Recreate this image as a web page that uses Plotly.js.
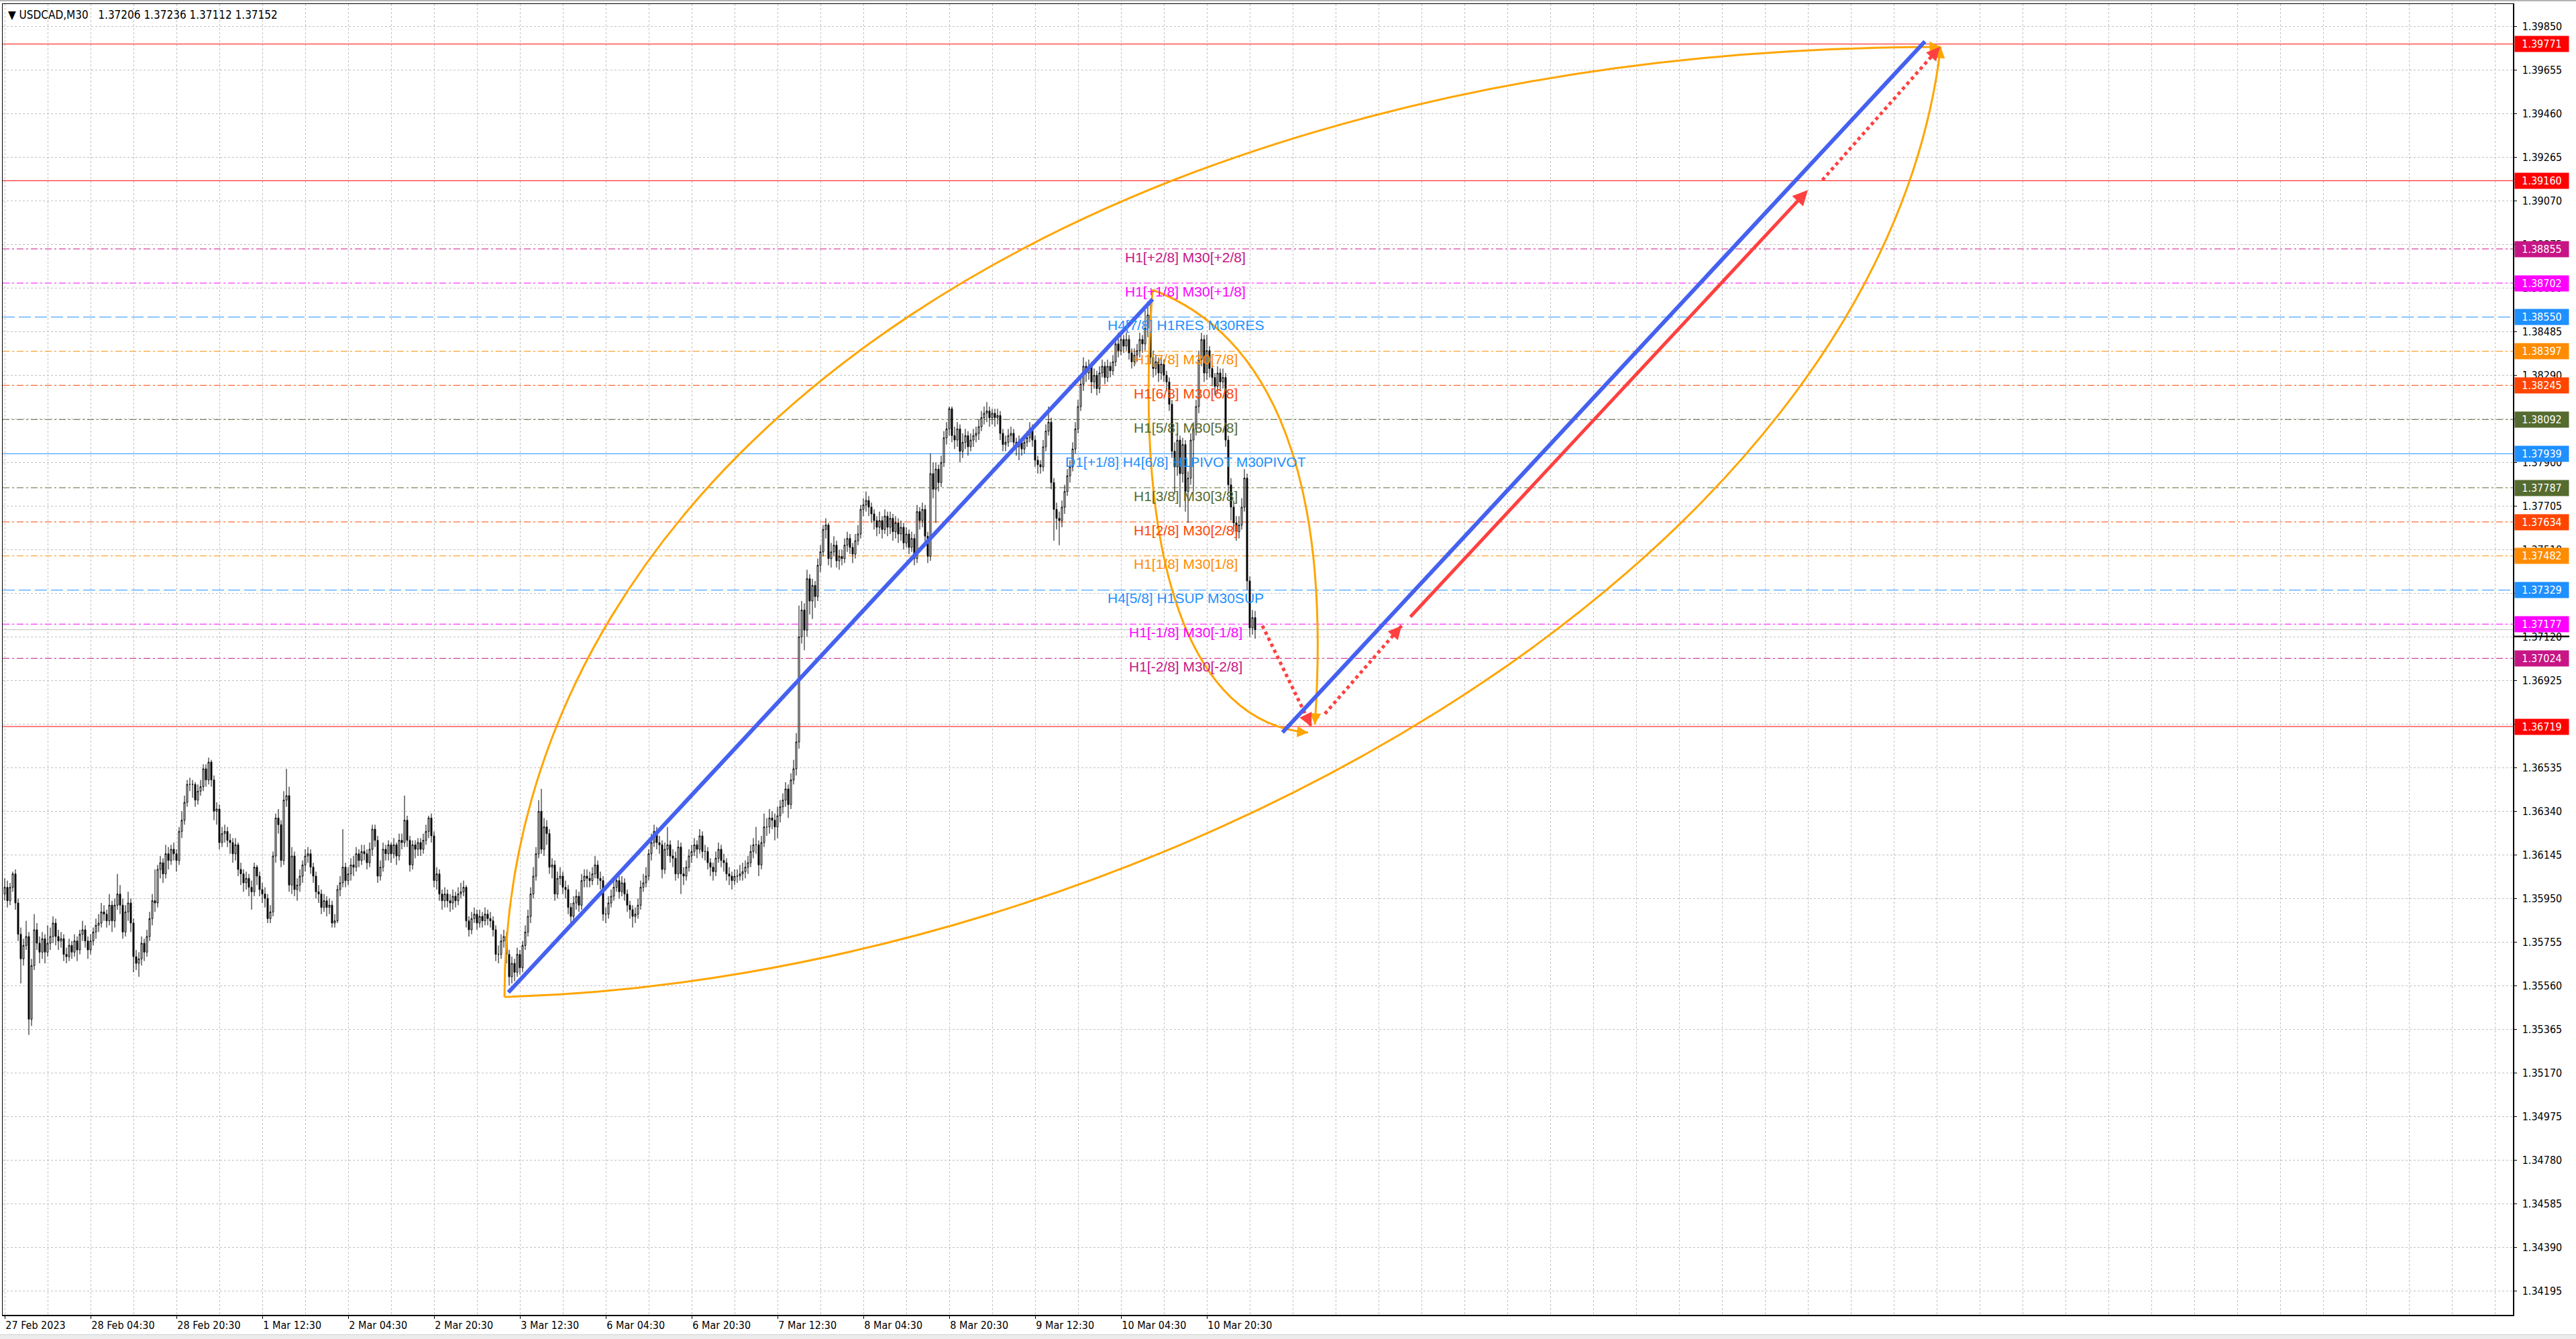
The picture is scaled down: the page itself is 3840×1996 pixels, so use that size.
<!DOCTYPE html>
<html>
<head>
<meta charset="utf-8">
<script src="https://cdn.plot.ly/plotly-3.0.1.min.js"></script>
<style>
html,body{margin:0;padding:0;background:#fff;overflow:hidden;}
#chart{width:3840px;height:1996px;position:absolute;left:0;top:0;}
#topbar{position:absolute;left:0;top:0;width:3840px;height:2px;background:#b4b4b4;}
#botbar{position:absolute;left:0;bottom:0;width:3840px;height:6px;background:#ececec;border-top:1px solid #d0d0d0;}
</style>
</head>
<body>
<div id="chart"></div>
<div id="topbar"></div>
<div id="botbar"></div>
<script>
// ---------------- DATA (USDCAD, M30) ----------------
const open = [
1.3597,1.3600,1.3594,1.3600,1.3606,1.3593,1.3579,1.3568,1.3574,1.3578,
1.3541,1.3565,1.3581,1.3575,1.3571,1.3577,1.3571,1.3575,1.3578,1.3584,
1.3578,1.3576,1.3577,1.3570,1.3569,1.3574,1.3571,1.3576,1.3572,1.3579,
1.3581,1.3576,1.3572,1.3576,1.3580,1.3583,1.3584,1.3589,1.3588,1.3585,
1.3592,1.3585,1.3592,1.3597,1.3592,1.3580,1.3589,1.3593,1.3584,1.3569,
1.3566,1.3568,1.3575,1.3571,1.3578,1.3586,1.3594,1.3593,1.3608,1.3611,
1.3606,1.3615,1.3612,1.3617,1.3615,1.3612,1.3625,1.3630,1.3638,1.3646,
1.3646,1.3646,1.3639,1.3643,1.3645,1.3653,1.3648,1.3656,1.3648,1.3634,
1.3635,1.3620,1.3624,1.3625,1.3621,1.3620,1.3615,1.3619,1.3608,1.3606,
1.3602,1.3604,1.3600,1.3598,1.3609,1.3605,1.3599,1.3597,1.3595,1.3586,
1.3589,1.3614,1.3631,1.3628,1.3612,1.3639,1.3641,1.3601,1.3614,1.3599,
1.3601,1.3605,1.3610,1.3614,1.3615,1.3609,1.3605,1.3598,1.3597,1.3591,
1.3594,1.3591,1.3592,1.3584,1.3585,1.3599,1.3602,1.3609,1.3603,1.3606,
1.3610,1.3609,1.3615,1.3612,1.3616,1.3615,1.3611,1.3617,1.3626,1.3621,
1.3605,1.3609,1.3617,1.3615,1.3619,1.3615,1.3619,1.3614,1.3621,1.3620,
1.3630,1.3621,1.3610,1.3619,1.3617,1.3620,1.3617,1.3621,1.3625,1.3631,
1.3623,1.3603,1.3606,1.3597,1.3594,1.3597,1.3594,1.3593,1.3596,1.3594,
1.3597,1.3598,1.3600,1.3585,1.3581,1.3586,1.3588,1.3584,1.3587,1.3585,
1.3588,1.3586,1.3585,1.3581,1.3570,1.3570,1.3576,1.3578,1.3570,1.3560,
1.3566,1.3562,1.3570,1.3564,1.3574,1.3580,1.3587,1.3597,1.3605,1.3615,
1.3634,1.3617,1.3627,1.3624,1.3609,1.3610,1.3597,1.3604,1.3605,1.3600,
1.3599,1.3591,1.3587,1.3593,1.3596,1.3592,1.3603,1.3605,1.3604,1.3603,
1.3606,1.3610,1.3604,1.3603,1.3588,1.3588,1.3593,1.3596,1.3600,1.3603,
1.3598,1.3602,1.3597,1.3592,1.3590,1.3587,1.3588,1.3592,1.3600,1.3602,
1.3605,1.3615,1.3620,1.3625,1.3620,1.3619,1.3608,1.3617,1.3619,1.3614,
1.3613,1.3606,1.3618,1.3606,1.3605,1.3609,1.3614,1.3616,1.3619,1.3617,
1.3623,1.3616,1.3616,1.3611,1.3609,1.3607,1.3613,1.3617,1.3612,1.3611,
1.3606,1.3605,1.3603,1.3605,1.3605,1.3606,1.3607,1.3609,1.3611,1.3616,
1.3619,1.3619,1.3610,1.3620,1.3627,1.3627,1.3631,1.3630,1.3627,1.3632,
1.3636,1.3639,1.3644,1.3637,1.3648,1.3653,1.3665,1.3712,1.3724,1.3715,
1.3738,1.3728,1.3735,1.3730,1.3744,1.3750,1.3760,1.3762,1.3747,1.3750,
1.3753,1.3746,1.3748,1.3747,1.3753,1.3756,1.3752,1.3749,1.3755,1.3758,
1.3769,1.3771,1.3773,1.3770,1.3767,1.3764,1.3761,1.3764,1.3760,1.3766,
1.3761,1.3765,1.3759,1.3763,1.3758,1.3761,1.3754,1.3758,1.3752,1.3756,
1.3747,1.3768,1.3764,1.3769,1.3757,1.3748,1.3785,1.3778,1.3787,1.3781,
1.3790,1.3801,1.3805,1.3814,1.3802,1.3800,1.3805,1.3795,1.3799,1.3802,
1.3797,1.3800,1.3802,1.3803,1.3806,1.3810,1.3812,1.3813,1.3810,1.3812,
1.3810,1.3811,1.3803,1.3798,1.3799,1.3802,1.3803,1.3799,1.3797,1.3799,
1.3796,1.3799,1.3801,1.3805,1.3800,1.3791,1.3789,1.3788,1.3797,1.3804,
1.3808,1.3781,1.3769,1.3765,1.3764,1.3770,1.3777,1.3784,1.3788,1.3796,
1.3805,1.3815,1.3825,1.3833,1.3830,1.3833,1.3826,1.3829,1.3823,1.3830,
1.3833,1.3828,1.3833,1.3831,1.3835,1.3843,1.3840,1.3845,1.3842,1.3845,
1.3839,1.3835,1.3838,1.3840,1.3845,1.3843,1.3850,1.3856,1.3837,1.3832,
1.3835,1.3830,1.3834,1.3829,1.3826,1.3816,1.3795,1.3788,1.3800,1.3785,
1.3798,1.3777,1.3783,1.3800,1.3805,1.3815,1.3836,1.3845,1.3830,1.3840,
1.3832,1.3828,1.3824,1.3830,1.3826,1.3828,1.3800,1.3780,1.3770,1.3763,
1.3759,1.3762,1.3770,1.3783,1.3737,1.3716,1.37206];

const high = [
1.3604,1.3603,1.3602,1.3607,1.3608,1.3595,1.3582,1.3577,1.3585,1.3580,
1.3568,1.3588,1.3584,1.3578,1.3580,1.3579,1.3583,1.3582,1.3587,1.3586,
1.3581,1.3580,1.3579,1.3573,1.3577,1.3576,1.3579,1.3578,1.3581,1.3585,
1.3583,1.3578,1.3579,1.3582,1.3586,1.3588,1.3593,1.3592,1.3590,1.3597,
1.3594,1.3595,1.3606,1.3601,1.3595,1.3592,1.3598,1.3595,1.3586,1.3572,
1.3571,1.3578,1.3577,1.3581,1.3589,1.3597,1.3608,1.3610,1.3614,1.3613,
1.3619,1.3618,1.3619,1.3620,1.3617,1.3627,1.3634,1.3641,1.3648,1.3649,
1.3648,1.3647,1.3646,1.3648,1.3655,1.3655,1.3658,1.3657,1.3650,1.3638,
1.3637,1.3627,1.3628,1.3627,1.3624,1.3622,1.3622,1.3620,1.3611,1.3608,
1.3607,1.3606,1.3603,1.3611,1.3610,1.3607,1.3602,1.3600,1.3597,1.3592,
1.3616,1.3633,1.3635,1.3630,1.3643,1.3653,1.3645,1.3618,1.3616,1.3604,
1.3608,1.3612,1.3617,1.3618,1.3617,1.3611,1.3607,1.3601,1.3599,1.3597,
1.3596,1.3595,1.3594,1.3588,1.3601,1.3605,1.3626,1.3611,1.3609,1.3613,
1.3614,1.3618,1.3617,1.3619,1.3619,1.3617,1.3620,1.3628,1.3628,1.3623,
1.3612,1.3620,1.3619,1.3621,1.3620,1.3622,1.3620,1.3624,1.3624,1.3641,
1.3632,1.3623,1.3621,1.3621,1.3622,1.3622,1.3624,1.3628,1.3632,1.3633,
1.3625,1.3609,1.3608,1.3599,1.3600,1.3599,1.3597,1.3599,1.3598,1.3600,
1.3602,1.3603,1.3601,1.3587,1.3589,1.3591,1.3590,1.3590,1.3589,1.3591,
1.3590,1.3589,1.3587,1.3583,1.3574,1.3579,1.3581,1.3580,1.3572,1.3569,
1.3568,1.3573,1.3572,1.3576,1.3583,1.3590,1.3600,1.3609,1.3618,1.3639,
1.3644,1.3631,1.3630,1.3626,1.3613,1.3612,1.3607,1.3609,1.3607,1.3603,
1.3601,1.3593,1.3596,1.3599,1.3598,1.3606,1.3608,1.3608,1.3607,1.3609,
1.3614,1.3612,1.3607,1.3605,1.3591,1.3596,1.3599,1.3603,1.3606,1.3605,
1.3605,1.3604,1.3599,1.3594,1.3592,1.3591,1.3595,1.3603,1.3606,1.3609,
1.3617,1.3624,1.3628,1.3627,1.3623,1.3621,1.3620,1.3627,1.3621,1.3617,
1.3616,1.3621,1.3620,1.3609,1.3612,1.3617,1.3619,1.3622,1.3621,1.3626,
1.3625,1.3619,1.3618,1.3613,1.3611,1.3616,1.3620,1.3619,1.3615,1.3613,
1.3609,1.3607,1.3608,1.3608,1.3610,1.3611,1.3612,1.3614,1.3619,1.3622,
1.3627,1.3621,1.3623,1.3633,1.3631,1.3635,1.3634,1.3633,1.3636,1.3639,
1.3642,1.3647,1.3646,1.3651,1.3657,1.3669,1.3726,1.3728,1.3727,1.3742,
1.3740,1.3738,1.3737,1.3747,1.3753,1.3762,1.3765,1.3763,1.3754,1.3757,
1.3755,1.3751,1.3751,1.3756,1.3759,1.3758,1.3754,1.3758,1.3762,1.3771,
1.3774,1.3777,1.3775,1.3772,1.3769,1.3766,1.3768,1.3766,1.3769,1.3768,
1.3768,1.3767,1.3766,1.3765,1.3764,1.3763,1.3761,1.3760,1.3759,1.3758,
1.3771,1.3770,1.3772,1.3771,1.3759,1.3794,1.3790,1.3790,1.3789,1.3793,
1.3804,1.3808,1.3815,1.3815,1.3806,1.3808,1.3807,1.3803,1.3805,1.3804,
1.3803,1.3805,1.3806,1.3809,1.3813,1.3815,1.3817,1.3815,1.3814,1.3814,
1.3814,1.3813,1.3805,1.3802,1.3805,1.3806,1.3805,1.3801,1.3802,1.3801,
1.3802,1.3804,1.3808,1.3807,1.3802,1.3793,1.3791,1.3800,1.3807,1.3815,
1.3810,1.3783,1.3772,1.3768,1.3773,1.3780,1.3787,1.3791,1.3799,1.3808,
1.3818,1.3828,1.3837,1.3835,1.3836,1.3835,1.3832,1.3831,1.3833,1.3836,
1.3835,1.3836,1.3835,1.3838,1.3846,1.3848,1.3848,1.3847,1.3848,1.3847,
1.3841,1.3841,1.3843,1.3848,1.3847,1.3858,1.3862,1.3861,1.3840,1.3838,
1.3837,1.3837,1.3836,1.3831,1.3828,1.3818,1.3799,1.3803,1.3802,1.3801,
1.3800,1.3786,1.3803,1.3808,1.3818,1.3840,1.3848,1.3847,1.3847,1.3842,
1.3835,1.3830,1.3833,1.3832,1.3832,1.3830,1.3802,1.3783,1.3773,1.3766,
1.3766,1.3774,1.3787,1.3785,1.3739,1.3724,1.37236];

const low = [
1.3594,1.3591,1.3592,1.3598,1.3590,1.3576,1.3557,1.3565,1.3572,1.3534,
1.3538,1.3563,1.3572,1.3566,1.3568,1.3566,1.3569,1.3572,1.3575,1.3574,
1.3572,1.3573,1.3567,1.3566,1.3567,1.3568,1.3569,1.3567,1.3570,1.3576,
1.3573,1.3568,1.3570,1.3574,1.3577,1.3580,1.3582,1.3585,1.3582,1.3583,
1.3580,1.3582,1.3590,1.3588,1.3577,1.3578,1.3585,1.3580,1.3562,1.3563,
1.3560,1.3565,1.3567,1.3569,1.3576,1.3583,1.3589,1.3591,1.3604,1.3602,
1.3604,1.3608,1.3610,1.3612,1.3607,1.3610,1.3622,1.3628,1.3636,1.3643,
1.3640,1.3636,1.3637,1.3641,1.3643,1.3645,1.3646,1.3645,1.3630,1.3628,
1.3617,1.3618,1.3620,1.3618,1.3615,1.3611,1.3612,1.3605,1.3601,1.3598,
1.3599,1.3596,1.3590,1.3596,1.3601,1.3596,1.3593,1.3591,1.3584,1.3584,
1.3587,1.3611,1.3624,1.3609,1.3610,1.3636,1.3598,1.3597,1.3596,1.3594,
1.3598,1.3602,1.3607,1.3611,1.3606,1.3602,1.3595,1.3593,1.3588,1.3589,
1.3587,1.3588,1.3582,1.3582,1.3584,1.3596,1.3600,1.3600,1.3601,1.3603,
1.3605,1.3607,1.3609,1.3610,1.3612,1.3608,1.3609,1.3614,1.3618,1.3602,
1.3603,1.3607,1.3612,1.3612,1.3611,1.3613,1.3610,1.3612,1.3617,1.3618,
1.3618,1.3607,1.3608,1.3613,1.3614,1.3614,1.3615,1.3619,1.3622,1.3620,
1.3600,1.3599,1.3594,1.3590,1.3591,1.3591,1.3589,1.3590,1.3591,1.3592,
1.3595,1.3596,1.3582,1.3578,1.3579,1.3584,1.3581,1.3582,1.3582,1.3583,
1.3583,1.3582,1.3578,1.3567,1.3566,1.3568,1.3573,1.3566,1.3556,1.3557,
1.3558,1.3560,1.3561,1.3562,1.3572,1.3578,1.3584,1.3595,1.3603,1.3613,
1.3615,1.3614,1.3619,1.3606,1.3604,1.3594,1.3595,1.3601,1.3597,1.3595,
1.3588,1.3584,1.3585,1.3590,1.3589,1.3590,1.3600,1.3600,1.3600,1.3601,
1.3604,1.3601,1.3599,1.3585,1.3584,1.3586,1.3591,1.3594,1.3598,1.3595,
1.3596,1.3594,1.3589,1.3586,1.3582,1.3584,1.3586,1.3590,1.3598,1.3600,
1.3603,1.3612,1.3618,1.3617,1.3615,1.3604,1.3606,1.3614,1.3611,1.3609,
1.3603,1.3604,1.3597,1.3601,1.3603,1.3607,1.3611,1.3614,1.3613,1.3615,
1.3613,1.3612,1.3608,1.3605,1.3603,1.3605,1.3611,1.3609,1.3607,1.3603,
1.3601,1.3599,1.3601,1.3602,1.3603,1.3603,1.3604,1.3606,1.3609,1.3613,
1.3615,1.3605,1.3608,1.3618,1.3623,1.3624,1.3626,1.3621,1.3622,1.3629,
1.3633,1.3636,1.3631,1.3635,1.3646,1.3650,1.3662,1.3709,1.3706,1.3712,
1.3722,1.3720,1.3725,1.3728,1.3741,1.3748,1.3756,1.3744,1.3743,1.3748,
1.3743,1.3742,1.3744,1.3745,1.3750,1.3749,1.3745,1.3747,1.3753,1.3756,
1.3766,1.3768,1.3766,1.3763,1.3760,1.3757,1.3758,1.3756,1.3758,1.3757,
1.3758,1.3755,1.3756,1.3754,1.3755,1.3751,1.3752,1.3749,1.3750,1.3744,
1.3745,1.3760,1.3761,1.3754,1.3745,1.3746,1.3774,1.3763,1.3777,1.3779,
1.3788,1.3798,1.3802,1.3799,1.3796,1.3797,1.3790,1.3792,1.3796,1.3793,
1.3795,1.3797,1.3799,1.3800,1.3804,1.3807,1.3808,1.3806,1.3807,1.3806,
1.3807,1.3800,1.3795,1.3795,1.3797,1.3799,1.3796,1.3793,1.3791,1.3793,
1.3794,1.3797,1.3799,1.3797,1.3788,1.3785,1.3785,1.3786,1.3795,1.3802,
1.3778,1.3755,1.3760,1.3753,1.3761,1.3767,1.3775,1.3781,1.3786,1.3794,
1.3803,1.3813,1.3822,1.3826,1.3827,1.3821,1.3823,1.3820,1.3821,1.3828,
1.3825,1.3826,1.3828,1.3829,1.3833,1.3837,1.3838,1.3839,1.3840,1.3836,
1.3832,1.3833,1.3835,1.3837,1.3839,1.3840,1.3846,1.3834,1.3828,1.3829,
1.3826,1.3827,1.3826,1.3822,1.3813,1.3792,1.3776,1.3784,1.3770,1.3781,
1.3768,1.3763,1.3780,1.3777,1.3802,1.3812,1.3833,1.3826,1.3827,1.3828,
1.3824,1.3820,1.3821,1.3822,1.3823,1.3797,1.3776,1.3764,1.3759,1.3755,
1.3756,1.3760,1.3768,1.3733,1.3712,1.3713,1.37112];

const close = [
1.3600,1.3594,1.3600,1.3606,1.3593,1.3579,1.3568,1.3574,1.3578,1.3541,
1.3565,1.3581,1.3575,1.3571,1.3577,1.3571,1.3575,1.3578,1.3584,1.3578,
1.3576,1.3577,1.3570,1.3569,1.3574,1.3571,1.3576,1.3572,1.3579,1.3581,
1.3576,1.3572,1.3576,1.3580,1.3583,1.3584,1.3589,1.3588,1.3585,1.3592,
1.3585,1.3592,1.3597,1.3592,1.3580,1.3589,1.3593,1.3584,1.3569,1.3566,
1.3568,1.3575,1.3571,1.3578,1.3586,1.3594,1.3593,1.3608,1.3611,1.3606,
1.3615,1.3612,1.3617,1.3615,1.3612,1.3625,1.3630,1.3638,1.3646,1.3646,
1.3646,1.3639,1.3643,1.3645,1.3653,1.3648,1.3656,1.3648,1.3634,1.3635,
1.3620,1.3624,1.3625,1.3621,1.3620,1.3615,1.3619,1.3608,1.3606,1.3602,
1.3604,1.3600,1.3598,1.3609,1.3605,1.3599,1.3597,1.3595,1.3586,1.3589,
1.3614,1.3631,1.3628,1.3612,1.3639,1.3641,1.3601,1.3614,1.3599,1.3601,
1.3605,1.3610,1.3614,1.3615,1.3609,1.3605,1.3598,1.3597,1.3591,1.3594,
1.3591,1.3592,1.3584,1.3585,1.3599,1.3602,1.3609,1.3603,1.3606,1.3610,
1.3609,1.3615,1.3612,1.3616,1.3615,1.3611,1.3617,1.3626,1.3621,1.3605,
1.3609,1.3617,1.3615,1.3619,1.3615,1.3619,1.3614,1.3621,1.3620,1.3630,
1.3621,1.3610,1.3619,1.3617,1.3620,1.3617,1.3621,1.3625,1.3631,1.3623,
1.3603,1.3606,1.3597,1.3594,1.3597,1.3594,1.3593,1.3596,1.3594,1.3597,
1.3598,1.3600,1.3585,1.3581,1.3586,1.3588,1.3584,1.3587,1.3585,1.3588,
1.3586,1.3585,1.3581,1.3570,1.3570,1.3576,1.3578,1.3570,1.3560,1.3566,
1.3562,1.3570,1.3564,1.3574,1.3580,1.3587,1.3597,1.3605,1.3615,1.3634,
1.3617,1.3627,1.3624,1.3609,1.3610,1.3597,1.3604,1.3605,1.3600,1.3599,
1.3591,1.3587,1.3593,1.3596,1.3592,1.3603,1.3605,1.3604,1.3603,1.3606,
1.3610,1.3604,1.3603,1.3588,1.3588,1.3593,1.3596,1.3600,1.3603,1.3598,
1.3602,1.3597,1.3592,1.3590,1.3587,1.3588,1.3592,1.3600,1.3602,1.3605,
1.3615,1.3620,1.3625,1.3620,1.3619,1.3608,1.3617,1.3619,1.3614,1.3613,
1.3606,1.3618,1.3606,1.3605,1.3609,1.3614,1.3616,1.3619,1.3617,1.3623,
1.3616,1.3616,1.3611,1.3609,1.3607,1.3613,1.3617,1.3612,1.3611,1.3606,
1.3605,1.3603,1.3605,1.3605,1.3606,1.3607,1.3609,1.3611,1.3616,1.3619,
1.3619,1.3610,1.3620,1.3627,1.3627,1.3631,1.3630,1.3627,1.3632,1.3636,
1.3639,1.3644,1.3637,1.3648,1.3653,1.3665,1.3712,1.3724,1.3715,1.3738,
1.3728,1.3735,1.3730,1.3744,1.3750,1.3760,1.3762,1.3747,1.3750,1.3753,
1.3746,1.3748,1.3747,1.3753,1.3756,1.3752,1.3749,1.3755,1.3758,1.3769,
1.3771,1.3773,1.3770,1.3767,1.3764,1.3761,1.3764,1.3760,1.3766,1.3761,
1.3765,1.3759,1.3763,1.3758,1.3761,1.3754,1.3758,1.3752,1.3756,1.3747,
1.3768,1.3764,1.3769,1.3757,1.3748,1.3785,1.3778,1.3787,1.3781,1.3790,
1.3801,1.3805,1.3814,1.3802,1.3800,1.3805,1.3795,1.3799,1.3802,1.3797,
1.3800,1.3802,1.3803,1.3806,1.3810,1.3812,1.3813,1.3810,1.3812,1.3810,
1.3811,1.3803,1.3798,1.3799,1.3802,1.3803,1.3799,1.3797,1.3799,1.3796,
1.3799,1.3801,1.3805,1.3800,1.3791,1.3789,1.3788,1.3797,1.3804,1.3808,
1.3781,1.3769,1.3765,1.3764,1.3770,1.3777,1.3784,1.3788,1.3796,1.3805,
1.3815,1.3825,1.3833,1.3830,1.3833,1.3826,1.3829,1.3823,1.3830,1.3833,
1.3828,1.3833,1.3831,1.3835,1.3843,1.3840,1.3845,1.3842,1.3845,1.3839,
1.3835,1.3838,1.3840,1.3845,1.3843,1.3850,1.3856,1.3837,1.3832,1.3835,
1.3830,1.3834,1.3829,1.3826,1.3816,1.3795,1.3788,1.3800,1.3785,1.3798,
1.3777,1.3783,1.3800,1.3805,1.3815,1.3836,1.3845,1.3830,1.3840,1.3832,
1.3828,1.3824,1.3830,1.3826,1.3828,1.3800,1.3780,1.3770,1.3763,1.3759,
1.3762,1.3770,1.3783,1.3737,1.3716,1.37206,1.37152];

// time-axis labels (bar index of each label, M30 bars)
const xTickBars = [0,32,64,96,128,160,192,224,256,288,320,352,384,416,448];
const xTickText = ['27 Feb 2023','28 Feb 04:30','28 Feb 20:30','1 Mar 12:30','2 Mar 04:30','2 Mar 20:30','3 Mar 12:30','6 Mar 04:30','6 Mar 20:30','7 Mar 12:30','8 Mar 04:30','8 Mar 20:30','9 Mar 12:30','10 Mar 04:30','10 Mar 20:30'];

// horizontal levels
const levelPrices = [1.39771,1.39160,1.38855,1.38702,1.38550,1.38397,1.38245,1.38092,1.37939,1.37787,1.37634,1.37482,1.37329,1.37177,1.37024,1.36719];
const levelColors = ['#FF0000','#FF0000','#C71585','#FF00FF','#1E90FF','#FF8C00','#FF4500','#556B2F','#1E90FF','#556B2F','#FF4500','#FF8C00','#1E90FF','#FF00FF','#C71585','#FF0000'];
const levelStyles = ['solid','solid','dashdot','dashdot','long','dashdot','dashdot','dashdot','solid','dashdot','dashdot','dashdot','long','dashdot','dashdot','solid'];
const levelNames = ['','','H1[+2/8] M30[+2/8]','H1[+1/8] M30[+1/8]','H4[7/8] H1RES M30RES','H1[7/8] M30[7/8]','H1[6/8] M30[6/8]','H1[5/8] M30[5/8]','D1[+1/8] H4[6/8] H1PIVOT M30PIVOT','H1[3/8] M30[3/8]','H1[2/8] M30[2/8]','H1[1/8] M30[1/8]','H4[5/8] H1SUP M30SUP','H1[-1/8] M30[-1/8]','H1[-2/8] M30[-2/8]',''];
const levelLabelBar = 440;
const bidPrice = 1.37152;
const headerText = '\u25BC USDCAD,M30\u00A0\u00A0 1.37206 1.37236 1.37112 1.37152';

// drawn objects: [bar, price] points
const blueLine1 = [[187.7,1.3553],[427.8,1.3863]];
const blueLine2 = [[476.2,1.36693],[715.6,1.39783]];
const redArrow  = [[523.5,1.37205],[672.0,1.39118]];
const redDot1   = [[468.7,1.37170],[487.0,1.36718]];
const redDot2   = [[492.0,1.36776],[520.6,1.37170]];
const redDot3   = [[677.4,1.39163],[721.2,1.39758]];
// cubic curves: start, control1, control2, end
const bigArcUpper = [[186.25,1.35510],[186.25,1.37973],[411.0,1.39758],[721.5,1.39758]];
const bigArcLower = [[186.25,1.35510],[423.25,1.35588],[698.25,1.37418],[721.5,1.39758]];
const smallArcLeft  = [[427.75,1.38672],[420.25,1.37448],[442.0,1.36734],[485.75,1.36692]];
const smallArcRight = [[427.75,1.38672],[473.25,1.38468],[494.5,1.37808],[488.25,1.36728]];

// ---------------- LAYOUT ----------------
const W = 3840, H = 1996;
const M = {l:4, r:94, t:6, b:36};
const xRange = [-0.75, 934.75];
const yRange = [1.34088, 1.39950];
const pxPerBar = (W - M.l - M.r) / (xRange[1] - xRange[0]);
const pxPerPrice = (H - M.t - M.b) / (yRange[1] - yRange[0]);

const axisFont = "Tahoma, 'DejaVu Sans Condensed', 'DejaVu Sans', sans-serif";
const textFont = "Arial, 'Liberation Sans', sans-serif";

const bars = close.map((_, i) => i);

const trace = {
  type: 'candlestick', x: bars, open: open, high: high, low: low, close: close,
  increasing: {line: {color: '#000000', width: 1}, fillcolor: '#FFFFFF'},
  decreasing: {line: {color: '#000000', width: 1}, fillcolor: '#000000'},
  whiskerwidth: 0, hoverinfo: 'skip', showlegend: false
};

const dashMap = {solid: 'solid', dashdot: '10px,4px,3px,4px', long: '18px,6px'};
const shapes = [];
levelPrices.forEach((p, i) => {
  shapes.push({type: 'line', xref: 'paper', x0: 0, x1: 1, yref: 'y', y0: p, y1: p,
    layer: 'between', line: {color: levelColors[i], width: 1, dash: dashMap[levelStyles[i]]}});
});
shapes.push({type: 'line', xref: 'paper', x0: 0, x1: 1, yref: 'y', y0: bidPrice, y1: bidPrice,
  layer: 'between', line: {color: '#C0C0C0', width: 1}});
shapes.push({type: 'line', xref: 'paper', x0: 1, x1: 1 + 84 / (W - M.l - M.r), yref: 'y',
  ysizemode: 'pixel', yanchor: bidPrice, y0: -10, y1: -10, line: {color: '#000', width: 2.5}});

function seg(pts, color, width, dash) {
  return {type: 'line', xref: 'x', yref: 'y', x0: pts[0][0], y0: pts[0][1], x1: pts[1][0], y1: pts[1][1],
    layer: 'above', line: {color: color, width: width, dash: dash || 'solid'}};
}
function curve(c, color, width) {
  const p = c.map(q => q[0] + ',' + q[1]);
  return {type: 'path', xref: 'x', yref: 'y', layer: 'above',
    path: 'M' + p[0] + ' C' + p[1] + ' ' + p[2] + ' ' + p[3],
    line: {color: color, width: width}};
}
const ORANGE = '#FFA500', BLUE = '#4561F0', RED = '#FF4040';
shapes.push(curve(bigArcUpper, ORANGE, 3));
shapes.push(curve(bigArcLower, ORANGE, 3));
shapes.push(curve(smallArcLeft, ORANGE, 3));
shapes.push(curve(smallArcRight, ORANGE, 3));
shapes.push(seg(redDot1, RED, 5, '5px,5px'));
shapes.push(seg(redDot2, RED, 5, '5px,5px'));
shapes.push(seg(redDot3, RED, 5, '5px,5px'));
shapes.push(seg(blueLine1, BLUE, 6));
shapes.push(seg(blueLine2, BLUE, 6));

const annotations = [];
// arrow heads
function head(tip, from, color, width, size, len) {
  const dx = (tip[0] - from[0]) * pxPerBar;
  const dy = -(tip[1] - from[1]) * pxPerPrice;
  const n = Math.sqrt(dx * dx + dy * dy);
  annotations.push({x: tip[0], y: tip[1], xref: 'x', yref: 'y', text: '', showarrow: true,
    axref: 'pixel', ayref: 'pixel', ax: -dx / n * len, ay: -dy / n * len,
    arrowhead: 2, arrowwidth: width, arrowsize: size, arrowcolor: color, standoff: 0, startstandoff: 0});
}
head(bigArcUpper[3], bigArcUpper[2], ORANGE, 3, 1.1, 14);
head(bigArcLower[3], bigArcLower[2], ORANGE, 3, 1.1, 14);
head(smallArcLeft[3], smallArcLeft[2], ORANGE, 3, 1.1, 14);
head(smallArcRight[3], smallArcRight[2], ORANGE, 3, 1.1, 14);
head(redDot1[1], redDot1[0], RED, 4, 1.0, 18);
head(redDot2[1], redDot2[0], RED, 4, 1.0, 18);
head(redDot3[1], redDot3[0], RED, 4, 1.0, 18);
annotations.push({x: redArrow[1][0], y: redArrow[1][1], xref: 'x', yref: 'y',
  ax: redArrow[0][0], ay: redArrow[0][1], axref: 'x', ayref: 'y', text: '', showarrow: true,
  arrowhead: 2, arrowwidth: 5, arrowsize: 0.9, arrowcolor: RED, standoff: 0, startstandoff: 0});

// level names in the chart
levelPrices.forEach((p, i) => {
  if (!levelNames[i]) return;
  annotations.push({x: levelLabelBar, y: p, xref: 'x', yref: 'y', text: levelNames[i], showarrow: false,
    xanchor: 'center', yanchor: 'middle', yshift: -12,
    font: {family: textFont, size: 21, color: levelColors[i]}});
});
// price boxes on the axis
levelPrices.forEach((p, i) => {
  annotations.push({x: 1, xref: 'paper', xanchor: 'left', xshift: 2, y: p, yref: 'y', yanchor: 'middle',
    text: p.toFixed(5), showarrow: false, bgcolor: levelColors[i], width: 78, height: 21, borderpad: 1,
    align: 'center', font: {family: axisFont, size: 16, color: '#FFFFFF'}});
});
// header
annotations.push({x: 0, xref: 'paper', xanchor: 'left', xshift: 6, y: 1, yref: 'paper', yanchor: 'middle',
  yshift: -16, text: headerText, showarrow: false, font: {family: axisFont, size: 17, color: '#000'}});

const gridStyle = {showgrid: true, gridcolor: '#C0C0C0', gridwidth: 1, griddash: '3px,3px'};
const layout = {
  width: W, height: H, margin: M, paper_bgcolor: '#FFFFFF', plot_bgcolor: '#FFFFFF',
  showlegend: false, hovermode: false, dragmode: false,
  xaxis: Object.assign({
    range: xRange, tickmode: 'array', tickvals: xTickBars, ticktext: xTickText,
    ticks: 'outside', ticklen: 4, tickcolor: '#000', tickwidth: 1,
    ticklabelposition: 'outside right',
    tickfont: {family: axisFont, size: 16, color: '#000'},
    minor: {tickmode: 'linear', tick0: 0, dtick: 16, showgrid: true, gridcolor: '#C0C0C0', gridwidth: 1, griddash: '3px,3px', ticks: ''},
    showline: true, linecolor: '#000', linewidth: 1.5, mirror: true, zeroline: false,
    rangeslider: {visible: false}, automargin: false, fixedrange: true
  }, gridStyle),
  yaxis: Object.assign({
    side: 'right', range: yRange, tickmode: 'linear', tick0: 1.34195, dtick: 0.00195, tickformat: '.5f',
    ticks: 'outside', ticklen: 4, tickcolor: '#000', tickwidth: 1, ticklabelstandoff: 5,
    tickfont: {family: axisFont, size: 16, color: '#000'},
    showline: true, linecolor: '#000', linewidth: 1.5, mirror: true, zeroline: false,
    automargin: false, fixedrange: true
  }, gridStyle),
  shapes: shapes, annotations: annotations
};

Plotly.newPlot('chart', [trace], layout, {staticPlot: true, displayModeBar: false});
</script>
</body>
</html>
